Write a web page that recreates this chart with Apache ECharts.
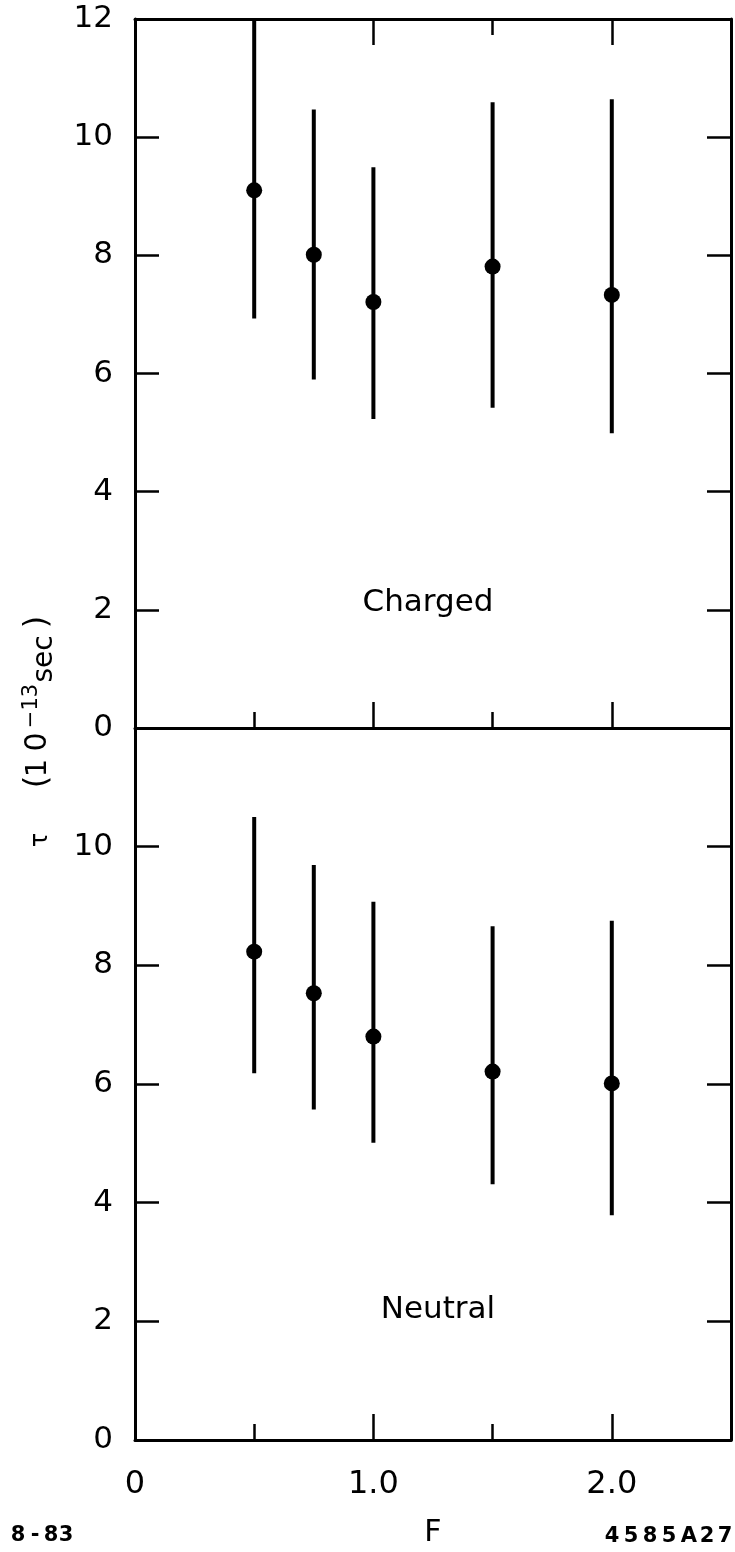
<!DOCTYPE html>
<html>
<head>
<meta charset="utf-8">
<title>Lifetime vs F</title>
<script src="https://cdn.jsdelivr.net/npm/echarts@6/dist/echarts.min.js"></script>
<style>
  html, body { margin: 0; padding: 0; background: #fff; }
  #chart { width: 735px; height: 1552px; }
</style>
</head>
<body>
<div id="chart"></div>
<script>
// F values at which the lifetime was measured
const F = [0.5, 0.75, 1.0, 1.5, 2.0];

// Charged sample: central value and error-bar ends (10^-13 sec)
const chargedTau  = [9.10, 8.01, 7.21, 7.81, 7.33];
const chargedLow  = [6.93, 5.90, 5.23, 5.42, 4.99];
const chargedHigh = [12.0, 10.47, 9.49, 10.59, 10.64];

// Neutral sample
const neutralTau  = [8.23, 7.53, 6.80, 6.21, 6.01];
const neutralLow  = [6.18, 5.57, 5.01, 4.31, 3.79];
const neutralHigh = [10.50, 9.69, 9.07, 8.66, 8.75];

// Axis ticks and labels
const fLabelValues = [0, 1, 2];
const fMajorTicks = [1, 2];
const fMinorTicks = [0.5, 1.5];
const tauTicks = [2, 4, 6, 8, 10];
const tauLabelsTop = [0, 2, 4, 6, 8, 10, 12];
const tauLabelsBottom = [0, 2, 4, 6, 8, 10];

const FONT = 'DejaVu Sans';
const INK = '#000';
const AXIS_W = 3;

const chart = echarts.init(document.getElementById('chart'), null, { renderer: 'canvas' });

function xAxisDef(gridIndex, position, ticks, len, showLine, labels) {
  return {
    type: 'value', gridIndex, position, min: 0, max: 2.5,
    axisLine: { show: showLine, onZero: false, lineStyle: { color: INK, width: AXIS_W } },
    axisTick: { show: true, inside: true, length: len, customValues: ticks,
                lineStyle: { color: INK, width: 2.5 } },
    axisLabel: labels ? {
      show: true, customValues: labels, margin: 29,
      fontFamily: FONT, fontSize: 32, color: INK,
      formatter: v => (v === 0 ? '0' : v.toFixed(1))
    } : { show: false },
    splitLine: { show: false }
  };
}

function yAxisDef(gridIndex, position, labels) {
  return {
    type: 'value', gridIndex, position, min: 0, max: 12, interval: 2,
    axisLine: { show: true, onZero: false, lineStyle: { color: INK, width: AXIS_W } },
    axisTick: { show: true, inside: true, length: 24, customValues: tauTicks,
                lineStyle: { color: INK, width: 2.5 } },
    axisLabel: labels ? {
      show: true, customValues: labels, margin: 22,
      fontFamily: FONT, fontSize: 31, color: INK
    } : { show: false },
    splitLine: { show: false }
  };
}

function errorBars(xAxisIndex, yAxisIndex, low, high) {
  return {
    type: 'custom', xAxisIndex, yAxisIndex,
    data: F.map((f, i) => [f, low[i], high[i]]),
    renderItem: (params, api) => {
      const p0 = api.coord([api.value(0), api.value(1)]);
      const p1 = api.coord([api.value(0), api.value(2)]);
      return {
        type: 'line',
        shape: { x1: p0[0], y1: p0[1], x2: p1[0], y2: p1[1] },
        style: { stroke: INK, lineWidth: 4, lineCap: 'butt' }
      };
    },
    silent: true, z: 3
  };
}

function points(xAxisIndex, yAxisIndex, tau) {
  return {
    type: 'scatter', xAxisIndex, yAxisIndex,
    data: F.map((f, i) => [f, tau[i]]),
    symbol: 'circle', symbolSize: 16,
    itemStyle: { color: INK, opacity: 1 }, silent: true, z: 4
  };
}

// Rotated y-axis title: τ (10^-13 sec), reading bottom to top
function tPiece(text, x, y, size, align) {
  return { type: 'text', x, y,
           style: { text, fontFamily: FONT, fontSize: size, fill: INK,
                    align: align || 'center', verticalAlign: 'bottom' } };
}
const titleGroup = {
  type: 'group', x: 47, y: 800, rotation: Math.PI / 2,
  children: [
    tPiece('τ', -40, 6, 24),
    tPiece('(', 18, 7, 32),
    tPiece('1', 32, 6, 29),
    tPiece('0', 58, 6, 30),
    tPiece('−13', 94, -5, 21),
    tPiece('sec', 141, 12, 28),
    tPiece(')', 178, 7, 32)
  ]
};

// Figure codes in the corners, with wide letter spacing
function spaced(str, positions, y) {
  return str.split('').map((ch, i) => ({
    type: 'text', x: positions[i], y,
    style: { text: ch, fontFamily: FONT, fontWeight: 'bold', fontSize: 21, fill: INK,
             align: 'center', verticalAlign: 'middle' }
  }));
}

const option = {
  animation: false,
  backgroundColor: '#fff',
  grid: [
    { left: 135, top: 19, width: 596, height: 709 },
    { left: 135, top: 728, width: 596, height: 712 }
  ],
  xAxis: [
    xAxisDef(0, 'bottom', fMajorTicks, 26, true, null),
    xAxisDef(0, 'bottom', fMinorTicks, 16, false, null),
    xAxisDef(0, 'top', fMajorTicks, 26, true, null),
    xAxisDef(0, 'top', fMinorTicks, 16, false, null),
    Object.assign(xAxisDef(1, 'bottom', fMajorTicks, 26, true, fLabelValues), {
      name: 'F', nameLocation: 'middle', nameGap: 78,
      nameTextStyle: { fontFamily: FONT, fontSize: 30, color: INK }
    }),
    xAxisDef(1, 'bottom', fMinorTicks, 16, false, null)
  ],
  yAxis: [
    yAxisDef(0, 'left', tauLabelsTop),
    yAxisDef(0, 'right', null),
    yAxisDef(1, 'left', tauLabelsBottom),
    yAxisDef(1, 'right', null)
  ],
  series: [
    errorBars(0, 0, chargedLow, chargedHigh),
    points(0, 0, chargedTau),
    errorBars(4, 2, neutralLow, neutralHigh),
    points(4, 2, neutralTau)
  ],
  graphic: [
    { type: 'text', x: 428, y: 603, style: { text: 'Charged', fontFamily: FONT, fontSize: 31, fill: INK, align: 'center', verticalAlign: 'middle' } },
    { type: 'text', x: 438, y: 1310, style: { text: 'Neutral', fontFamily: FONT, fontSize: 31, fill: INK, align: 'center', verticalAlign: 'middle' } },
    titleGroup
  ]
    .concat(spaced('8-83', [18, 35, 51, 66], 1536))
    .concat(spaced('4585A27', [612, 631, 650, 669, 689, 707, 725], 1537))
};

chart.setOption(option);
</script>
</body>
</html>
